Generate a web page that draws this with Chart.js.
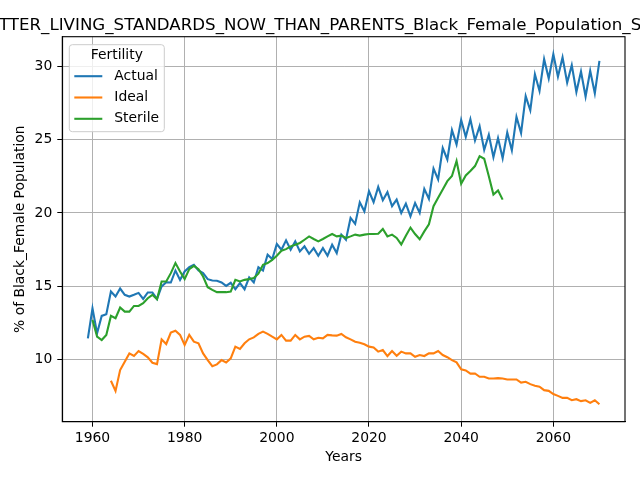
<!DOCTYPE html>
<html>
<head>
<meta charset="utf-8">
<script src="https://cdn.jsdelivr.net/npm/chart.js@4.4.1/dist/chart.umd.min.js"></script>
<style>
html,body{margin:0;padding:0;background:#fff;overflow:hidden}
</style>
</head>
<body>
<canvas id="chart" width="640" height="480"></canvas>
<script>
// the title is wider than the figure; only its middle shows
var titleHidden="BE";
var titleText="BETTER_LIVING_STANDARDS_NOW_THAN_PARENTS_Black_Female_Population_Share";
var xTicks=[1960,1980,2000,2020,2040,2060];
var yTicks=[10,15,20,25,30];
var seriesNames=["Actual","Ideal","Sterile"];
var seriesColors=["#1f77b4","#ff7f0e","#2ca02c"];

// first year of each series, one value per year after that
var actualStart=1959;
var actual=[11.44,13.49,11.78,12.97,13.08,14.63,14.29,14.84,14.41,14.29,
  14.41,14.54,14.13,14.57,14.57,14.13,14.98,15.27,15.25,16.07,
  15.43,16.0,16.3,16.46,16.07,15.89,15.48,15.39,15.37,15.25,
  15.02,15.23,14.79,15.21,14.79,15.6,15.25,16.3,16.07,17.15,
  16.85,17.88,17.49,18.13,17.49,18.06,17.37,17.72,17.21,17.6,
  17.08,17.6,17.08,17.83,17.26,18.52,18.17,19.66,19.25,20.73,
  20.11,21.48,20.73,21.78,20.87,21.42,20.46,20.91,20.0,20.64,
  19.77,20.68,20.0,21.64,20.96,23.03,22.29,24.43,23.65,25.66,
  24.68,26.35,25.19,26.4,24.95,25.92,24.31,25.34,23.81,25.11,
  23.74,25.5,24.27,26.56,25.46,27.98,27.01,29.47,28.33,30.5,
  29.18,30.84,29.3,30.62,28.9,30.09,28.26,29.66,27.95,29.7,
  28.17,30.39];

var idealStart=1964;
var ideal=[8.54,7.85,9.27,9.84,10.41,10.23,10.57,10.37,10.14,9.77,
  9.68,11.37,11.05,11.83,11.96,11.67,10.98,11.67,11.21,11.1,
  10.41,9.95,9.54,9.66,9.95,9.79,10.07,10.87,10.71,11.1,
  11.37,11.5,11.74,11.9,11.74,11.55,11.37,11.67,11.28,11.28,
  11.67,11.37,11.55,11.6,11.37,11.48,11.44,11.67,11.64,11.62,
  11.74,11.51,11.37,11.21,11.14,11.03,10.87,10.82,10.53,10.64,
  10.23,10.57,10.25,10.53,10.41,10.41,10.18,10.3,10.23,10.41,
  10.41,10.57,10.3,10.15,9.95,9.8,9.32,9.25,9.03,9.04,
  8.81,8.81,8.7,8.7,8.72,8.7,8.63,8.63,8.63,8.42,
  8.47,8.31,8.2,8.13,7.9,7.85,7.63,7.51,7.37,7.37,
  7.21,7.28,7.15,7.21,7.03,7.21,6.94];

var sterileStart=1960;
var sterile=[12.7,11.55,11.32,11.67,12.97,12.81,13.54,13.26,13.26,13.65,
  13.65,13.84,14.18,14.41,14.11,15.32,15.32,15.89,16.58,16.0,
  15.48,16.16,16.39,16.16,15.66,14.93,14.75,14.59,14.59,14.59,
  14.63,15.43,15.32,15.43,15.48,15.55,15.85,16.46,16.58,16.8,
  17.08,17.42,17.53,17.72,17.83,17.95,18.17,18.4,18.22,18.06,
  18.22,18.4,18.56,18.4,18.45,18.29,18.4,18.52,18.45,18.52,
  18.56,18.56,18.58,18.9,18.4,18.52,18.29,17.85,18.45,19.0,
  18.56,18.2,18.74,19.22,20.46,21.03,21.6,22.17,22.52,23.55,
  22.0,22.56,22.86,23.2,23.88,23.7,22.51,21.26,21.53,20.91];

function toPoints(start,vals){
  var pts=[];
  for(var i=0;i<vals.length;i++){
    pts.push({x:start+i,y:vals[i]});
  }
  return pts;
}

var FONT='"DejaVu Sans", sans-serif';
var tickFont={family:FONT,size:13.9};

var titlePlugin={
  id:"titlePlugin",
  afterDraw:function(chart){
    var ctx=chart.ctx;
    ctx.save();
    ctx.font='16.65px '+FONT;
    ctx.fillStyle="#000";
    ctx.textBaseline="alphabetic";
    ctx.textAlign="left";
    var skip=ctx.measureText(titleHidden).width;
    ctx.fillText(titleText,-skip-1,29.5);
    ctx.restore();
  }
};

var framePlugin={
  id:"framePlugin",
  afterDatasetsDraw:function(chart){
    var a=chart.chartArea,ctx=chart.ctx;
    ctx.save();
    ctx.strokeStyle="#000";
    ctx.lineWidth=1.1;
    ctx.strokeRect(a.left,a.top,a.right-a.left,a.bottom-a.top);
    ctx.restore();
  }
};

var legendPlugin={
  id:"legendPlugin",
  afterDraw:function(chart){
    var a=chart.chartArea,ctx=chart.ctx;
    var x0=a.left+7,y0=a.top+8,w=95,h=87;
    ctx.save();
    ctx.beginPath();
    ctx.roundRect(x0,y0,w,h,3);
    ctx.fillStyle="rgba(255,255,255,0.8)";
    ctx.fill();
    ctx.strokeStyle="#cccccc";
    ctx.lineWidth=1;
    ctx.stroke();
    ctx.font='13.9px '+FONT;
    ctx.fillStyle="#000";
    ctx.textBaseline="middle";
    ctx.textAlign="center";
    ctx.fillText("Fertility",x0+w/2,y0+11);
    ctx.textAlign="left";
    var ds=chart.data.datasets;
    for(var i=0;i<ds.length;i++){
      var yy=y0+31.5+i*21.3;
      ctx.beginPath();
      ctx.moveTo(x0+5,yy);
      ctx.lineTo(x0+33,yy);
      ctx.strokeStyle=ds[i].borderColor;
      ctx.lineWidth=2.1;
      ctx.stroke();
      ctx.fillText(ds[i].label,x0+45,yy);
    }
    ctx.restore();
  }
};

var sets=[toPoints(actualStart,actual),toPoints(idealStart,ideal),toPoints(sterileStart,sterile)];
var datasets=[];
for(var k=0;k<sets.length;k++){
  datasets.push({
    label:seriesNames[k],
    data:sets[k],
    borderColor:seriesColors[k],
    backgroundColor:seriesColors[k],
    borderWidth:2.1,
    pointRadius:0,
    tension:0,
    fill:false,
    order:sets.length-k
  });
}

new Chart(document.getElementById("chart"),{
  type:"line",
  data:{datasets:datasets},
  options:{
    responsive:false,
    animation:false,
    devicePixelRatio:1,
    layout:{padding:{top:36.7,right:15,bottom:0,left:0}},
    plugins:{legend:{display:false},tooltip:{enabled:false},title:{display:false}},
    scales:{
      x:{
        type:"linear",
        min:1953.45,
        max:2075.55,
        afterBuildTicks:function(s){s.ticks=xTicks.map(function(v){return {value:v};});},
        afterFit:function(s){s.height=58.3;},
        ticks:{font:tickFont,color:"#000",padding:3,maxRotation:0,autoSkip:false,
          callback:function(v){return String(v);}},
        grid:{color:"#b0b0b0",lineWidth:1,tickLength:5,tickColor:"#000"},
        border:{color:"#000",width:1.1},
        title:{display:true,text:"Years",font:tickFont,color:"#000",padding:{top:0,bottom:14.5}}
      },
      y:{
        type:"linear",
        min:5.745,
        max:32.035,
        afterBuildTicks:function(s){s.ticks=yTicks.map(function(v){return {value:v};});},
        afterFit:function(s){s.width=62.3;},
        ticks:{font:tickFont,color:"#000",padding:5,
          callback:function(v){return String(v);}},
        grid:{color:"#b0b0b0",lineWidth:1,tickLength:5,tickColor:"#000"},
        border:{color:"#000",width:1.1},
        title:{display:true,text:"% of Black_Female Population",font:tickFont,color:"#000",padding:{top:12,bottom:0}}
      }
    }
  },
  plugins:[titlePlugin,framePlugin,legendPlugin]
});
</script>
</body>
</html>
